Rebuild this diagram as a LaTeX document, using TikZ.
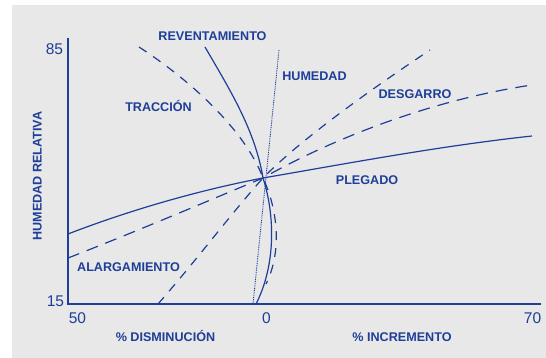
\documentclass[tikz,border=0pt]{standalone}
\usepackage{fontspec}
\setmainfont{Liberation Sans}
\definecolor{ink}{RGB}{30,62,152}
\definecolor{bg}{RGB}{232,232,232}
\begin{document}
\begin{tikzpicture}[x=1pt,y=-1pt,
  curve/.style={draw=ink,line width=1.2pt},
  longdash/.style={curve,dash pattern=on 12pt off 8pt},
  shortdash/.style={curve,dash pattern=on 9pt off 8pt},
  dots/.style={draw=ink,line width=0.9pt,dash pattern=on 0.9pt off 0.9pt},
  lbl/.style={text=ink,font=\fontsize{12.6}{14}\selectfont\bfseries,inner sep=0pt,anchor=base},
  num/.style={text=ink,font=\fontsize{15.5}{17}\selectfont,inner sep=0pt,anchor=base}]
\useasboundingbox (0,0) rectangle (546,358);
\fill[white] (0,0) rectangle (546,358);
\fill[bg] (12,5) rectangle (546,358);
% axes
\coordinate (ytop) at (68,38);
\coordinate (orig) at (68,304);
\coordinate (xend) at (541,304);
\draw[ink,line width=1.3pt] (ytop) -- (orig) -- (xend);
% centre
\coordinate (c) at (263,178);
% PLEGADO
\coordinate (pl) at (68,234);
\coordinate (pr) at (532,136);
\draw[curve] (pl) .. controls (130,210) and (200,190) .. (c) .. controls (350,163) and (440,146) .. (pr);
% long dashed
\coordinate (ll) at (68,258);
\coordinate (lr) at (532,85);
\draw[longdash] (ll) .. controls (140,230) and (210,200) .. (c) .. controls (330,140) and (430,100) .. (lr);
% short dashed steep
\coordinate (sl) at (158,304);
\coordinate (sr) at (430,50);
\draw[shortdash] (sl) .. controls (195,262) and (230,215) .. (c) .. controls (300,140) and (370,90) .. (sr);
% TRACCION dashed
\coordinate (tt) at (139,47);
\coordinate (tb) at (266,284);
\draw[shortdash] (tt) .. controls (190,80) and (245,130) .. (c) .. controls (278,210) and (282,252) .. (tb);
% REVENTAMIENTO solid
\coordinate (rt) at (205,47);
\coordinate (rb) at (256,304);
\draw[curve] (rt) .. controls (230,90) and (255,130) .. (c) .. controls (275,215) and (276,265) .. (rb);
% HUMEDAD dotted
\coordinate (ht) at (279,50);
\coordinate (hb) at (253,304);
\draw[dots] (ht) -- (hb);
% labels
\node[lbl] (rev) at (212.5,40.7) {REVENTAMIENTO};
\node[lbl] (tra) at (158.5,111.5) {TRACCIÓN};
\node[lbl] (hum) at (314.5,81) {HUMEDAD};
\node[lbl] (des) at (415,99) {DESGARRO};
\node[lbl] (ple) at (367,184.5) {PLEGADO};
\node[lbl] (ala) at (128.5,271.7) {ALARGAMIENTO};
\node[lbl] (dis) at (165.5,341.7) {\% DISMINUCIÓN};
\node[lbl] (inc) at (402,341.7) {\% INCREMENTO};
\node[lbl,rotate=90] (hr) at (41.5,176) {HUMEDAD RELATIVA};
\node[num] (n85) at (54.5,55) {85};
\node[num] (n15) at (55.5,306) {15};
\node[num] (n50) at (77.5,323) {50};
\node[num] (n0) at (266.5,323) {0};
\node[num] (n70) at (532.5,323) {70};
\end{tikzpicture}
\end{document}
